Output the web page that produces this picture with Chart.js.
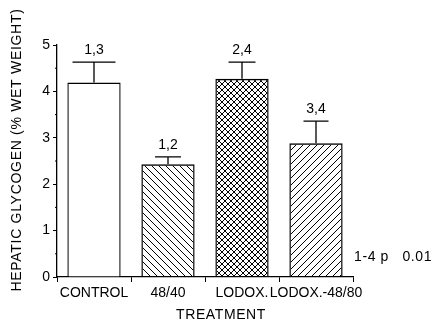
<!DOCTYPE html>
<html>
<head>
<meta charset="utf-8">
<script src="https://cdn.jsdelivr.net/npm/chart.js@4/dist/chart.umd.min.js"></script>
<style>
  body { margin: 0; background: #fff; }
  canvas { display: block; }
</style>
</head>
<body>
<canvas id="barChart" width="438" height="322"></canvas>
<script>
// data
const treatments = ['CONTROL', '48/40', 'LODOX.', 'LODOX.-48/80'];
const glycogen = [4.19, 2.43, 4.27, 2.88];
const errorTop = [4.63, 2.59, 4.63, 3.36];
const sigLabels = ['1,3', '1,2', '2,4', '3,4'];
const yTicks = [0, 1, 2, 3, 4, 5];
const note = '1-4 p   0.01';

Chart.defaults.font.family = "'Liberation Sans', Arial, sans-serif";
Chart.defaults.font.size = 14;
Chart.defaults.color = '#000';

function hatch(kind, size) {
    const c = document.createElement('canvas');
    c.width = size;
    c.height = size;
    const g = c.getContext('2d');
    g.strokeStyle = '#000';
    g.lineWidth = 1;
    g.beginPath();
    for (const o of [-size, 0, size]) {
        if (kind.includes('\\')) { g.moveTo(o, 0); g.lineTo(o + size, size); }
        if (kind.includes('/')) { g.moveTo(o, size); g.lineTo(o + size, 0); }
    }
    g.stroke();
    return g.createPattern(c, 'repeat');
}

const fills = ['#ffffff', hatch('\\', 7), hatch('\\/', 6), hatch('/', 7)];
const capWidths = [43, 26, 27, 25];

const extras = {
    id: 'extras',
    afterDatasetsDraw(chart) {
        const ctx = chart.ctx;
        const y = chart.scales.y;
        const bars = chart.getDatasetMeta(0).data;
        ctx.save();
        ctx.strokeStyle = '#000';
        ctx.fillStyle = '#000';
        ctx.lineWidth = 1.3;
        ctx.font = "14px 'Liberation Sans', Arial, sans-serif";
        bars.forEach((bar, i) => {
            const yTop = y.getPixelForValue(errorTop[i]);
            const yMean = y.getPixelForValue(glycogen[i]);
            ctx.beginPath();
            ctx.moveTo(bar.x, yMean);
            ctx.lineTo(bar.x, yTop);
            ctx.moveTo(bar.x - capWidths[i] / 2, yTop);
            ctx.lineTo(bar.x + capWidths[i] / 2, yTop);
            ctx.stroke();
            ctx.textAlign = 'center';
            ctx.textBaseline = 'alphabetic';
            ctx.fillText(sigLabels[i], bar.x, yTop - 8);
        });
        // minor ticks at half units
        ctx.lineWidth = 1;
        for (let v = 0.5; v < 5; v += 1) {
            const py = y.getPixelForValue(v);
            ctx.beginPath();
            ctx.moveTo(chart.chartArea.left - 2, py);
            ctx.lineTo(chart.chartArea.left, py);
            ctx.stroke();
        }
        ctx.letterSpacing = '0.6px';
        ctx.textAlign = 'left';
        ctx.textBaseline = 'middle';
        ctx.fillText(note, 354, 257);
        ctx.textAlign = 'center';
        ctx.fillText('TREATMENT', 221, 315);
        ctx.letterSpacing = '0.7px';
        ctx.translate(17, 150);
        ctx.rotate(-Math.PI / 2);
        ctx.fillText('HEPATIC GLYCOGEN (% WET WEIGHT)', 0, 0);
        ctx.restore();
    }
};

const config = {
    type: 'bar',
    data: {
        labels: treatments,
        datasets: [
            {
                label: 'Hepatic glycogen',
                data: glycogen,
                backgroundColor: fills,
                borderColor: '#000',
                borderWidth: 1.4,
                barPercentage: 0.72,
                categoryPercentage: 1
            }
        ]
    },
    options: {
        responsive: false,
        animation: false,
        layout: {
            padding: { top: 45, right: 85, bottom: 0, left: 0 }
        },
        plugins: {
            legend: { display: false },
            tooltip: { enabled: false }
        },
        scales: {
            x: {
                grid: { drawOnChartArea: false, color: '#000', tickLength: 5 },
                border: { color: '#000', width: 1.3 },
                ticks: { autoSkip: false, maxRotation: 0, padding: 3 },
                afterFit: s => { s.height = 45; }
            },
            y: {
                min: 0,
                max: 5,
                afterBuildTicks: s => { s.ticks = yTicks.map(v => ({ value: v })); },
                ticks: { padding: 3 },
                grid: { drawOnChartArea: false, color: '#000', tickLength: 4 },
                border: { color: '#000', width: 1.3 },
                afterFit: s => { s.width = 57; }
            }
        }
    },
    plugins: [extras]
};

var ctx = document.getElementById('barChart').getContext('2d');
var barChart = new Chart(ctx, config);
</script>
</body>
</html>
